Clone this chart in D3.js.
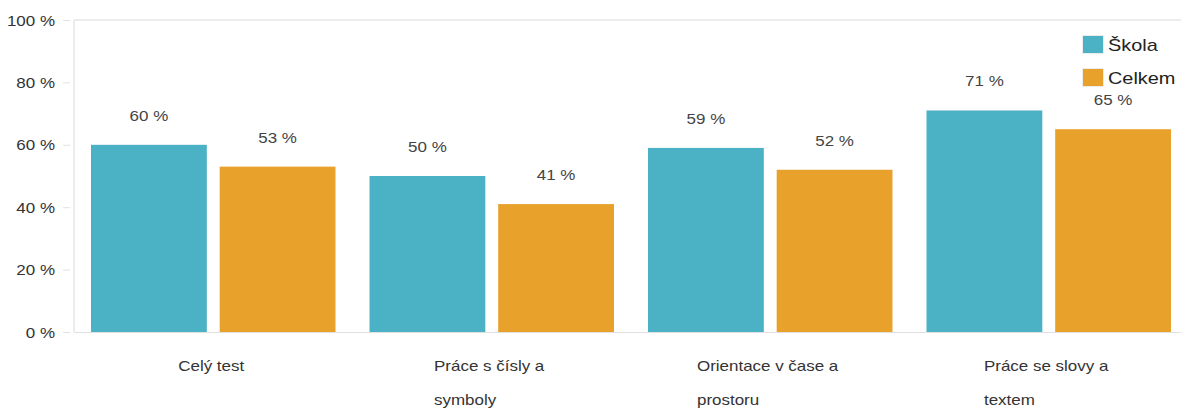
<!DOCTYPE html>
<html><head><meta charset="utf-8">
<script src="https://cdn.jsdelivr.net/npm/d3@7"></script>
<style>body{margin:0;background:#fff;font-family:"Liberation Sans",Arial,sans-serif;}</style>
</head><body><svg id="c" width="1181" height="409"></svg>
<script>
const categories = [["Celý test"], ["Práce s čísly a", "symboly"], ["Orientace v čase a", "prostoru"], ["Práce se slovy a", "textem"]];
const seriesNames = ["Škola", "Celkem"];
const skola = [60, 50, 59, 71];
const celkem = [53, 41, 52, 65];
const yTicks = [0, 20, 40, 60, 80, 100];
const colors = ["#4bb1c5", "#e8a22b"];

(function () {
const SX = 1.17;
const svg = d3.select("#c");
const pL = 74, pR = 1188, pT = 20, pB = 332;
const x0 = d3.scaleBand().domain(d3.range(categories.length)).range([pL, pR]).paddingInner(0).paddingOuter(0);
const x1 = d3.scaleBand().domain([0, 1]).range([17, x0.bandwidth() - 17]).paddingInner(0.1);
const y = d3.scaleLinear().domain([0, 100]).range([pB, pT]);

svg.append("line").attr("x1", pL).attr("x2", pL).attr("y1", pT).attr("y2", pB).attr("stroke", "#e6e6e6").attr("stroke-width", 1.5);
svg.append("line").attr("x1", pL).attr("x2", 1181).attr("y1", pT).attr("y2", pT).attr("stroke", "#e6e6e6").attr("stroke-width", 1.5);

const yAxis = svg.append("g").attr("transform", `translate(${pL - 4},0)`)
  .call(d3.axisLeft(y).tickValues(yTicks).tickSize(7).tickFormat(d => d + " %"));
yAxis.select(".domain").remove();
yAxis.selectAll("line").attr("stroke", "#e0e0e0");
yAxis.selectAll("text").attr("fill", "#333").attr("font-size", 14.5)
  .attr("font-family", "Liberation Sans, Arial, sans-serif")
  .attr("x", 0).attr("dy", null).attr("y", 0)
  .attr("transform", `translate(-15,5) scale(${SX},1)`);

const data = categories.map((c, i) => [skola[i], celkem[i]]);
const g = svg.selectAll(".grp").data(data).join("g").attr("transform", (d, i) => `translate(${x0(i)},0)`);
g.selectAll("rect").data(d => d).join("rect")
  .attr("x", (d, j) => x1(j)).attr("width", x1.bandwidth())
  .attr("y", d => y(d)).attr("height", d => y(0) - y(d))
  .attr("fill", (d, j) => colors[j]);
g.selectAll("text.v").data(d => d).join("text").attr("class", "v")
  .attr("transform", (d, j) => `translate(${x1(j) + x1.bandwidth() / 2},${y(d) - 24}) scale(${SX},1)`)
  .attr("text-anchor", "middle").attr("font-size", 14.5).attr("fill", "#444")
  .text(d => d + " %");

svg.append("line").attr("x1", pL).attr("x2", 1181).attr("y1", pB + 0.5).attr("y2", pB + 0.5).attr("stroke", "#e0e0e0");

categories.forEach((lines, i) => {
  const cx = x0(i) + x0.bandwidth() / 2 - 2;
  const grp = svg.append("g");
  const t = grp.append("text").attr("font-size", 14.5).attr("fill", "#333");
  lines.forEach((l, k) => t.append("tspan").attr("x", 0).attr("y", k * 34).text(l));
  const w = t.node().getBBox().width * SX;
  grp.attr("transform", `translate(${cx - w / 2},371) scale(${SX},1)`);
});

const lg = svg.append("g").attr("transform", "translate(1082,35)");
seriesNames.forEach((n, i) => {
  lg.append("rect").attr("x", 0.5).attr("y", i * 33 + 0.5).attr("width", 21).attr("height", 18).attr("fill", colors[i]).attr("stroke", "#ececec");
  lg.append("text").attr("transform", `translate(26,${i * 33 + 16}) scale(${SX},1)`).attr("font-size", 17).attr("fill", "#222").text(n);
});
})();
</script></body></html>
